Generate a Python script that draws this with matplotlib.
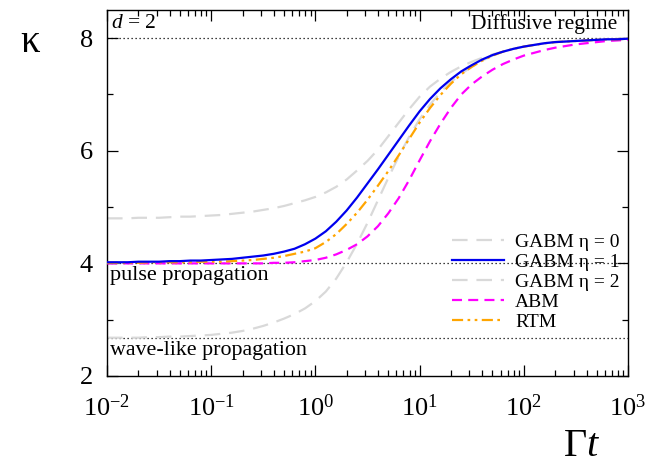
import numpy as np
import matplotlib
matplotlib.use("Agg")
import matplotlib.pyplot as plt
from matplotlib.ticker import LogLocator, FixedLocator

plt.rcParams['font.family'] = ['Liberation Serif', 'DejaVu Serif']
plt.rcParams['mathtext.fontset'] = 'custom'
plt.rcParams['mathtext.rm'] = 'Liberation Serif'
plt.rcParams['mathtext.it'] = 'Liberation Serif:italic'
plt.rcParams['mathtext.bf'] = 'Liberation Serif:bold'
plt.rcParams['axes.unicode_minus'] = False

# log10(Gamma t) sample positions, -2.0 .. 3.0 in steps of 0.1
logt = [-2.0, -1.9, -1.8, -1.7, -1.6, -1.5, -1.4, -1.3, -1.2, -1.1,
        -1.0, -0.9, -0.8, -0.7, -0.6, -0.5, -0.4, -0.3, -0.2, -0.1,
        0.0, 0.1, 0.2, 0.3, 0.4, 0.5, 0.6, 0.7, 0.8, 0.9,
        1.0, 1.1, 1.2, 1.3, 1.4, 1.5, 1.6, 1.7, 1.8, 1.9,
        2.0, 2.1, 2.2, 2.3, 2.4, 2.5, 2.6, 2.7, 2.8, 2.9, 3.0]

kappa_gabm0 = [2.68, 2.68, 2.68, 2.68, 2.69, 2.69, 2.70, 2.70, 2.71, 2.72,
               2.73, 2.75, 2.77, 2.80, 2.84, 2.89, 2.95, 3.02, 3.10, 3.20,
               3.33, 3.50, 3.73, 4.02, 4.35, 4.72, 5.12, 5.52, 5.90, 6.25,
               6.56, 6.82, 7.04, 7.22, 7.37, 7.49, 7.60, 7.69, 7.76, 7.81,
               7.85, 7.88, 7.91, 7.93, 7.94, 7.95, 7.96, 7.97, 7.98, 7.98, 7.99]
kappa_gabm1 = [4.02, 4.02, 4.02, 4.03, 4.03, 4.03, 4.04, 4.04, 4.05, 4.05,
               4.06, 4.07, 4.08, 4.10, 4.12, 4.14, 4.17, 4.21, 4.26, 4.34,
               4.44, 4.57, 4.74, 4.94, 5.17, 5.42, 5.67, 5.93, 6.19, 6.45,
               6.70, 6.92, 7.11, 7.27, 7.41, 7.52, 7.62, 7.70, 7.76, 7.81,
               7.85, 7.88, 7.91, 7.93, 7.94, 7.95, 7.96, 7.97, 7.98, 7.98, 7.99]
kappa_gabm2 = [4.80, 4.80, 4.80, 4.81, 4.81, 4.81, 4.82, 4.83, 4.83, 4.84,
               4.85, 4.86, 4.88, 4.90, 4.92, 4.95, 4.98, 5.02, 5.07, 5.12,
               5.18, 5.26, 5.36, 5.49, 5.65, 5.82, 6.02, 6.26, 6.50, 6.74,
               6.96, 7.14, 7.28, 7.40, 7.50, 7.58, 7.65, 7.71, 7.76, 7.81,
               7.85, 7.88, 7.91, 7.93, 7.94, 7.95, 7.96, 7.97, 7.98, 7.98, 7.99]
kappa_abm = [4.00, 4.00, 4.00, 4.00, 4.00, 4.00, 4.00, 4.00, 4.00, 4.00,
             4.00, 4.00, 4.00, 4.00, 4.00, 4.00, 4.01, 4.01, 4.02, 4.04,
             4.06, 4.10, 4.16, 4.24, 4.34, 4.48, 4.66, 4.89, 5.16, 5.48,
             5.83, 6.17, 6.48, 6.76, 7.00, 7.18, 7.32, 7.44, 7.54, 7.62,
             7.69, 7.74, 7.79, 7.83, 7.86, 7.89, 7.91, 7.93, 7.95, 7.96, 7.97]
kappa_rtm = [4.01, 4.01, 4.01, 4.01, 4.02, 4.02, 4.02, 4.02, 4.02, 4.03,
             4.03, 4.03, 4.04, 4.05, 4.06, 4.08, 4.10, 4.13, 4.17, 4.21,
             4.27, 4.38, 4.52, 4.70, 4.90, 5.13, 5.38, 5.64, 5.92, 6.21,
             6.50, 6.76, 6.99, 7.19, 7.36, 7.49, 7.60, 7.69, 7.76, 7.81,
             7.85, 7.88, 7.91, 7.93, 7.94, 7.95, 7.96, 7.97, 7.98, 7.98, 7.99]

levels = [8.0, 4.0, 8.0 / 3.0]
level_labels = ["Diffusive regime", "pulse propagation", "wave-like propagation"]

x = 10.0 ** np.array(logt)

fig = plt.figure(figsize=(6.62, 4.66), dpi=100)
ax = fig.add_axes([107 / 662, 1 - 376 / 466, 521 / 662, 366 / 466])

for lv in levels:
    ax.axhline(lv, color='black', lw=0.9, ls=(0, (1, 2.2)), zorder=1)

lg = '#d9d9d9'
ax.plot(x, kappa_gabm0, color=lg, lw=1.6, ls=(0, (7, 4)), label=r'GABM η = 0', zorder=2)
ax.plot(x, kappa_gabm1, color='#0000ee', lw=1.6, ls='-', label=r'GABM η = 1', zorder=4)
ax.plot(x, kappa_gabm2, color=lg, lw=1.6, ls=(0, (7, 4)), label=r'GABM η = 2', zorder=2)
ax.plot(x, kappa_abm, color='#ff00ff', lw=1.6, ls=(0, (4.5, 2.8)), label='ABM', zorder=3)
ax.plot(x, kappa_rtm, color='#ffa500', lw=1.6, ls=(0, (5, 2, 1.2, 2, 1.2, 2)), label='RTM', zorder=3)

ax.set_xscale('log')
ax.set_xlim(1e-2, 1e3)
ax.set_ylim(2, 8.5)
ax.xaxis.set_major_locator(LogLocator(base=10, numticks=10))
ax.xaxis.set_minor_locator(LogLocator(base=10, subs=np.arange(2, 10), numticks=20))
ax.yaxis.set_major_locator(FixedLocator([2, 4, 6, 8]))
ax.yaxis.set_minor_locator(FixedLocator([3, 5, 7]))
ax.tick_params(which='both', direction='in', top=True, right=True, labelsize=19)
ax.tick_params(which='major', length=8, width=0.9)
ax.tick_params(which='minor', length=4, width=0.9)
ax.tick_params(axis='x', which='major', pad=13)
ax.tick_params(axis='y', which='major', pad=10)
for s in ax.spines.values():
    s.set_linewidth(1.0)

ax.text(0.008, 0.962, r'$d$ = 2', transform=ax.transAxes, fontsize=15.5, va='center', ha='left')
ax.text(0.98, 0.962, level_labels[0], transform=ax.transAxes, fontsize=15.5, va='center', ha='right')
ax.text(0.006, 4.0 - 0.22, level_labels[1], transform=ax.get_yaxis_transform(), fontsize=16, va='center', ha='left')
ax.text(0.006, 8.0 / 3.0 - 0.22, level_labels[2], transform=ax.get_yaxis_transform(), fontsize=15.8, va='center', ha='left')

leg = ax.legend(loc='upper left', bbox_to_anchor=(0.662, 0.389), frameon=False,
                fontsize=14, handlelength=2.7, handletextpad=0.55,
                labelspacing=0.12, borderpad=0, borderaxespad=0)

fig.text(30 / 662, 1 - 42 / 466, 'κ', fontsize=28, ha='center', va='center')
fig.text(582 / 662, 1 - 447 / 466, r'$\Gamma t$', fontsize=29, ha='center', va='center')

fig.savefig('out.png', dpi=100)
